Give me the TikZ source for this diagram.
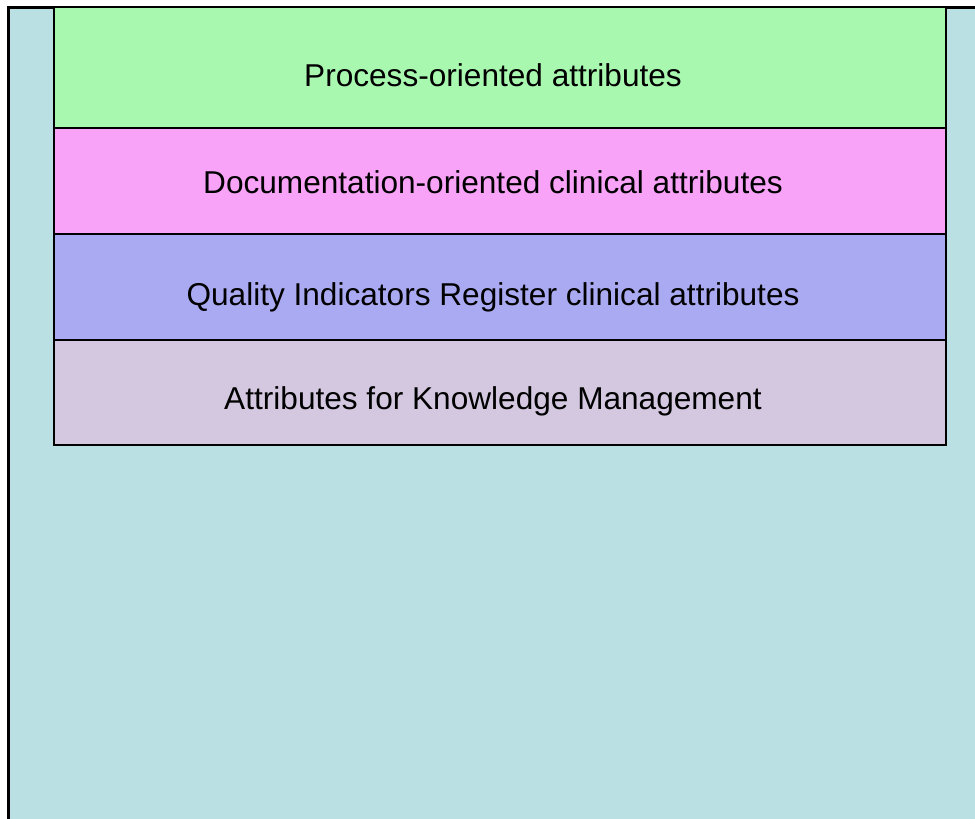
\documentclass[tikz,border=0pt]{standalone}
\usepackage{fontspec}
\setmainfont{Liberation Sans}
\definecolor{paneblue}{RGB}{186,224,227}
\definecolor{procgreen}{RGB}{168,248,176}
\definecolor{docpink}{RGB}{248,162,248}
\definecolor{qirblue}{RGB}{170,170,242}
\definecolor{kmlilac}{RGB}{212,200,224}
\tikzset{
  band/.style={draw=black,line width=1pt},
  bandtext/.style={anchor=base,inner sep=0pt,font=\fontsize{15.8}{19}\selectfont}
}
\begin{document}
\begin{tikzpicture}[x=0.5pt,y=-0.5pt]
  \useasboundingbox (0,0) rectangle (975,819);
  \clip (0,0) rectangle (975,819);
  % outer pane
  \draw[fill=paneblue,line width=1.5pt] (8,7) rectangle (1000,850);

  % attribute layers
  \draw[band,fill=procgreen] (54,7) rectangle (946,128);
  \draw[band,fill=docpink] (54,128) rectangle (946,234);
  \draw[band,fill=qirblue] (54,234) rectangle (946,340);
  \draw[band,fill=kmlilac] (54,340) rectangle (946,445);

  \node[bandtext] (proc) at (493,86) {Process-oriented attributes};
  \node[bandtext] (doc) at (493,193) {Documentation-oriented clinical attributes};
  \node[bandtext] (qir) at (493,305) {Quality Indicators Register clinical attributes};
  \node[bandtext] (km) at (493,409) {Attributes for Knowledge Management};
\end{tikzpicture}
\end{document}
